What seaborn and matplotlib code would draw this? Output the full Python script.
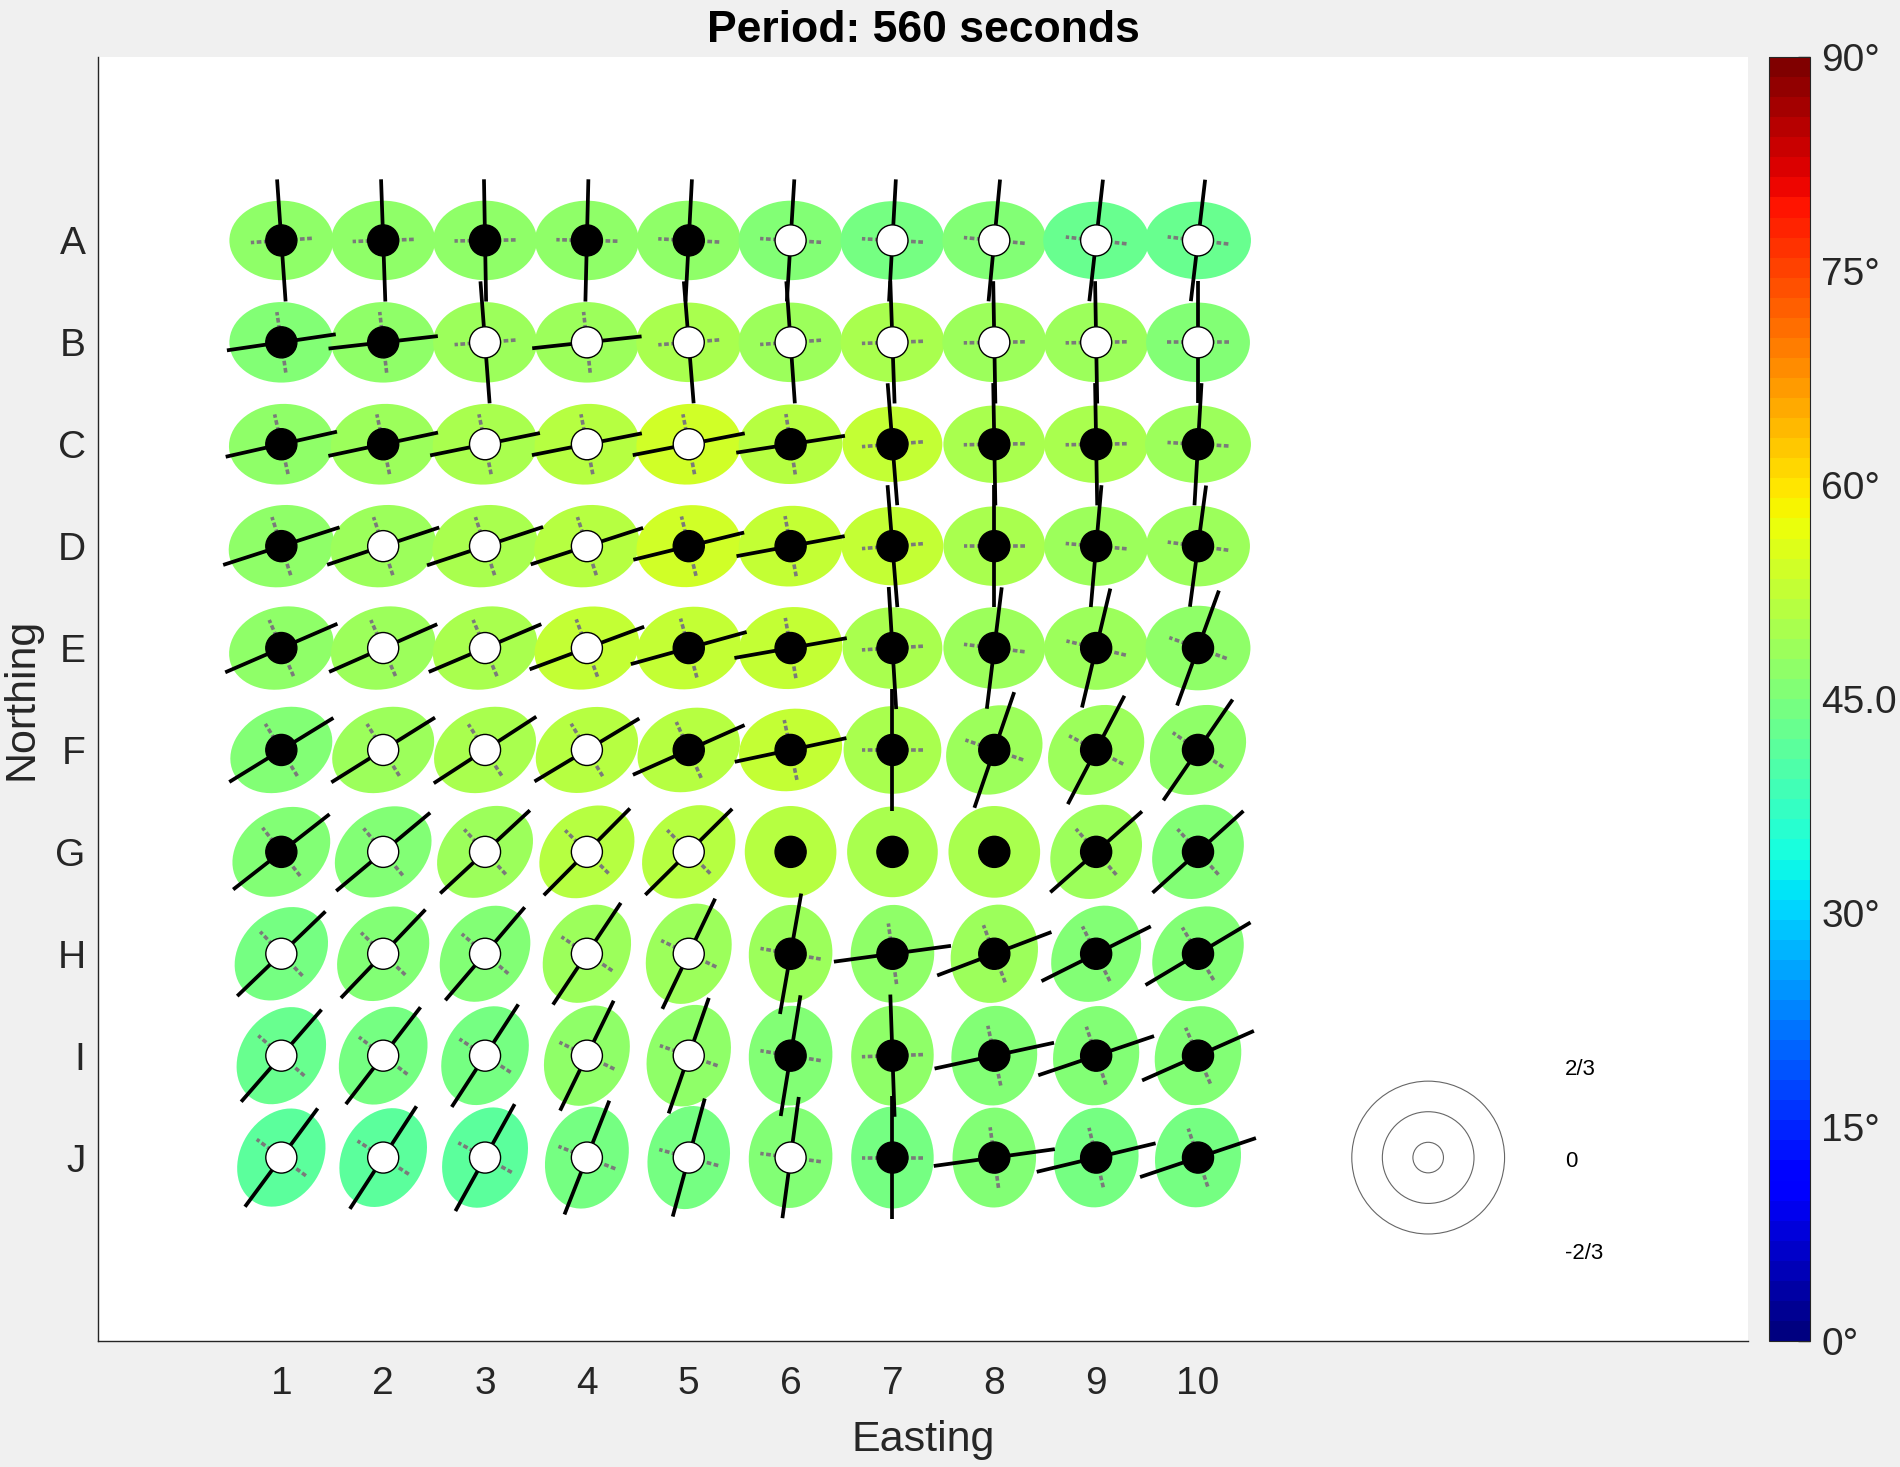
import numpy as np
import pandas as pd
import seaborn as sns
import matplotlib as mpl
import matplotlib.pyplot as plt
from matplotlib.patches import Ellipse, Circle
from matplotlib.collections import LineCollection

rows = list("ABCDEFGHIJ")
cols = list(range(1, 11))

# centre dot: 1 = black, 0 = white
dot_black = [
    [1, 1, 1, 1, 1, 0, 0, 0, 0, 0],
    [1, 1, 0, 0, 0, 0, 0, 0, 0, 0],
    [1, 1, 0, 0, 0, 1, 1, 1, 1, 1],
    [1, 0, 0, 0, 1, 1, 1, 1, 1, 1],
    [1, 0, 0, 0, 1, 1, 1, 1, 1, 1],
    [1, 0, 0, 0, 1, 1, 1, 1, 1, 1],
    [1, 0, 0, 0, 0, 1, 1, 1, 1, 1],
    [0, 0, 0, 0, 0, 1, 1, 1, 1, 1],
    [0, 0, 0, 0, 0, 1, 1, 1, 1, 1],
    [0, 0, 0, 0, 0, 0, 1, 1, 1, 1],
]

# black bar direction (deg, counter-clockwise from east)
line_angle = [
    [94, 92, 91, 88.6, 87, 86.5, 86.8, 84.6, 83.6, 83.3],
    [8.4, 6.5, 94.3, 6.2, 94.6, 94, 92, 91, 91, 90],
    [12.7, 12, 11.5, 11.2, 11, 8.8, 94.5, 91, 91, 86.7],
    [17.9, 18.4, 18.3, 18, 13.8, 10.5, 94.6, 90, 85, 82.4],
    [23.4, 23.8, 23, 20.4, 15.5, 10, 93.5, 83, 76.6, 70],
    [31.6, 32, 33, 31, 24, 12, 90, 71, 62.4, 55.5],
    [38, 39.8, 42.8, 45.2, 44.7, 0, 0, 0, 41.4, 42],
    [43.8, 46.3, 49.5, 56.3, 64.4, 80, 7.7, 20.8, 26.6, 30.8],
    [48.9, 52.4, 57, 64, 70.8, 80.7, 92, 12.2, 18.7, 23.9],
    [53.5, 57, 61, 68.5, 74.8, 82.3, 90, 7.9, 13.5, 18.6],
]

# black bar half length
line_half = [
    [0.6, 0.6, 0.6, 0.6, 0.6, 0.6, 0.6, 0.6, 0.6, 0.6],
    [0.54, 0.54, 0.6, 0.54, 0.6, 0.6, 0.6, 0.6, 0.6, 0.6],
    [0.56, 0.55, 0.55, 0.55, 0.56, 0.54, 0.6, 0.6, 0.6, 0.6],
    [0.6, 0.58, 0.6, 0.58, 0.56, 0.54, 0.6, 0.6, 0.6, 0.6],
    [0.6, 0.58, 0.6, 0.6, 0.59, 0.56, 0.6, 0.6, 0.6, 0.6],
    [0.6, 0.6, 0.6, 0.6, 0.6, 0.56, 0.6, 0.6, 0.6, 0.6],
    [0.6, 0.6, 0.6, 0.6, 0.6, 0.0, 0.0, 0.0, 0.6, 0.6],
    [0.6, 0.6, 0.6, 0.6, 0.6, 0.6, 0.58, 0.6, 0.6, 0.6],
    [0.6, 0.6, 0.6, 0.6, 0.6, 0.6, 0.6, 0.6, 0.6, 0.6],
    [0.6, 0.6, 0.6, 0.6, 0.6, 0.6, 0.6, 0.6, 0.6, 0.6],
]

ell_angle = [
    [0, 0, 0, 0, 0, 0, 0, 0, 0, 0],
    [0, 0, 0, 0, 0, 0, 0, 0, 0, 0],
    [5, 5, 5, 5, 5, 3, 0, 0, 0, 0],
    [10, 10, 10, 10, 8, 5, 0, 0, 0, 0],
    [15, 15, 15, 14, 12, 8, 0, 0, 0, 0],
    [25, 25, 25, 24, 20, 12, 0, 30, 35, 35],
    [35, 38, 40, 42, 45, 0, 0, 0, 50, 50],
    [45, 48, 52, 58, 65, 85, 85, 70, 55, 50],
    [55, 57, 60, 65, 70, 85, 88, 82, 78, 75],
    [58, 60, 65, 72, 78, 85, 90, 88, 82, 80],
]

ell_major = [
    [1.02, 1.02, 1.02, 1.02, 1.02, 1.02, 1.02, 1.02, 1.04, 1.04],
    [1.02, 1.02, 1.02, 1.02, 1.03, 1.02, 1.02, 1.02, 1.02, 1.02],
    [1.03, 1.03, 1.03, 1.03, 1.03, 1.02, 0.98, 1.0, 1.02, 1.04],
    [1.04, 1.04, 1.04, 1.04, 1.03, 1.02, 1.0, 1.0, 1.02, 1.02],
    [1.04, 1.04, 1.04, 1.04, 1.03, 1.02, 0.98, 1.0, 1.02, 1.03],
    [1.04, 1.04, 1.04, 1.04, 1.03, 1.02, 0.96, 0.98, 1.0, 1.0],
    [1.03, 1.03, 1.03, 1.03, 1.02, 0.9, 0.89, 0.9, 0.98, 0.98],
    [1.02, 1.02, 1.02, 1.02, 1.02, 0.96, 0.96, 0.98, 1.0, 1.0],
    [1.02, 1.02, 1.02, 1.02, 1.02, 0.98, 0.98, 0.98, 0.98, 0.98],
    [1.02, 1.02, 1.02, 1.02, 1.02, 0.99, 1.0, 0.98, 0.98, 0.98],
]

ell_minor = [
    [0.78, 0.78, 0.78, 0.78, 0.78, 0.78, 0.77, 0.77, 0.76, 0.76],
    [0.79, 0.79, 0.79, 0.79, 0.78, 0.78, 0.78, 0.78, 0.78, 0.78],
    [0.79, 0.79, 0.79, 0.79, 0.79, 0.78, 0.74, 0.76, 0.76, 0.76],
    [0.8, 0.8, 0.8, 0.8, 0.8, 0.79, 0.77, 0.78, 0.78, 0.79],
    [0.8, 0.8, 0.8, 0.8, 0.8, 0.8, 0.8, 0.8, 0.82, 0.83],
    [0.8, 0.8, 0.8, 0.8, 0.8, 0.8, 0.86, 0.84, 0.82, 0.82],
    [0.8, 0.8, 0.8, 0.8, 0.8, 0.9, 0.89, 0.9, 0.84, 0.84],
    [0.8, 0.8, 0.8, 0.8, 0.8, 0.82, 0.82, 0.84, 0.82, 0.82],
    [0.8, 0.8, 0.8, 0.8, 0.8, 0.82, 0.81, 0.84, 0.84, 0.84],
    [0.8, 0.8, 0.8, 0.8, 0.8, 0.82, 0.81, 0.82, 0.83, 0.84],
]

# ellipse colour value (degrees on the 0-90 colour scale)
ell_value = [
    [47, 47, 47, 47, 47, 46, 44, 46, 43, 43],
    [46, 47, 48, 48, 50, 49, 50, 49, 48, 46],
    [47, 49, 50, 52, 53.5, 52, 53, 50, 49.5, 48],
    [47, 49, 50, 52, 54, 53, 53, 50, 49, 48],
    [47, 48, 50, 53, 53, 53, 50, 49, 48, 47],
    [46, 48, 50, 52, 52, 52.5, 50, 49, 48, 47],
    [45, 46, 49, 51, 51, 52, 50, 50, 48, 46],
    [44, 45, 46, 48, 48, 48, 47, 48, 46, 45],
    [43, 44, 44, 47, 47, 46, 47, 46, 45, 45],
    [41, 41, 41, 44, 44, 45, 44, 45, 44, 44],
]

minor_half = 0.3
legend_radii = [0.75, 0.45, 0.15]
legend_labels = ["2/3", "0", "-2/3"]
legend_offsets = [0.86, -0.04, -0.94]
cbar_ticks = [0, 15, 30, 45, 60, 75, 90]
cbar_labels = ["0°", "15°", "30°", "45.0", "60°", "75°", "90°"]

recs = []
for i, r in enumerate(rows):
    for j, c in enumerate(cols):
        recs.append(dict(easting=c, northing=len(rows) - i,
                         dot="black" if dot_black[i][j] else "white",
                         ang=line_angle[i][j], half=line_half[i][j],
                         e_ang=ell_angle[i][j], e_w=ell_major[i][j],
                         e_h=ell_minor[i][j], val=ell_value[i][j]))
df = pd.DataFrame(recs)

sns.set_theme(style="white")
plt.rcParams['font.family'] = ['Liberation Sans', 'DejaVu Sans']

fig = plt.figure(figsize=(19, 14.67), dpi=100, facecolor="#f0f0f0")
ax = fig.add_axes([98 / 1900, 126 / 1467, 1650 / 1900, 1284 / 1467])
cax = fig.add_axes([1769 / 1900, 126 / 1467, 41 / 1900, 1284 / 1467])
ax.set_facecolor("white")

cmap = plt.get_cmap("jet", 64)
norm = mpl.colors.Normalize(0, 90)

for _, d in df.iterrows():
    ax.add_patch(Ellipse((d.easting, d.northing), d.e_w, d.e_h, angle=d.e_ang,
                         facecolor=cmap(norm(d.val)), edgecolor="none", zorder=1))

lined = df[df.half > 0]
t = np.deg2rad(lined.ang.values)
x0, y0, h = lined.easting.values, lined.northing.values, lined.half.values
major = [[(x - hh * np.cos(a), y - hh * np.sin(a)), (x + hh * np.cos(a), y + hh * np.sin(a))]
         for x, y, hh, a in zip(x0, y0, h, t)]
minor = [[(x + minor_half * np.sin(a), y - minor_half * np.cos(a)),
          (x - minor_half * np.sin(a), y + minor_half * np.cos(a))]
         for x, y, a in zip(x0, y0, t)]
ax.add_collection(LineCollection(minor, colors="#7a7a7a", linewidths=2.6,
                                 linestyles=[(0, (1.3, 0.7))], zorder=2))
ax.add_collection(LineCollection(major, colors="black", linewidths=2.7, zorder=3))

sns.scatterplot(data=df, x="easting", y="northing", hue="dot",
                palette={"black": "black", "white": "white"}, s=500,
                edgecolor="black", linewidth=1.0, legend=False, ax=ax, zorder=4)

# scale legend
lx, ly = 12.26, 1
for r in legend_radii:
    ax.add_patch(Circle((lx, ly), r, fill=False, edgecolor="#666666", lw=0.8, zorder=2))
for lab, off in zip(legend_labels, legend_offsets):
    ax.text(13.6, ly + off, lab, fontsize=16, va="center", ha="left", color="black")

ax.set_xlim(-0.8, 15.4)
ax.set_ylim(-0.8, 11.8)
ax.set_xticks(cols)
ax.set_yticks(list(range(len(rows), 0, -1)))
ax.set_yticklabels(rows)
ax.tick_params(direction="in", length=9, width=1, labelsize=28, colors="#262626")
ax.tick_params(axis="x", pad=18)
ax.tick_params(axis="y", pad=9)
for s in ["top", "right"]:
    ax.spines[s].set_visible(False)
for s in ["left", "bottom"]:
    ax.spines[s].set_color("#262626")
    ax.spines[s].set_linewidth(1)
ax.set_xlabel("Easting", fontsize=31, color="#262626", labelpad=13)
ax.set_ylabel("Northing", fontsize=31, color="#262626", labelpad=10)
ax.set_title("Period: 560 seconds", fontsize=32, fontweight="bold", color="black", pad=11)

sm = mpl.cm.ScalarMappable(norm=norm, cmap=cmap)
cb = fig.colorbar(sm, cax=cax, ticks=cbar_ticks)
cb.ax.set_yticklabels(cbar_labels)
cb.ax.tick_params(direction="in", length=9, width=1, labelsize=28, colors="#262626", pad=8)
cb.outline.set_linewidth(0.8)
cb.outline.set_edgecolor("#262626")

fig.savefig("out.png", dpi=100, facecolor=fig.get_facecolor())
